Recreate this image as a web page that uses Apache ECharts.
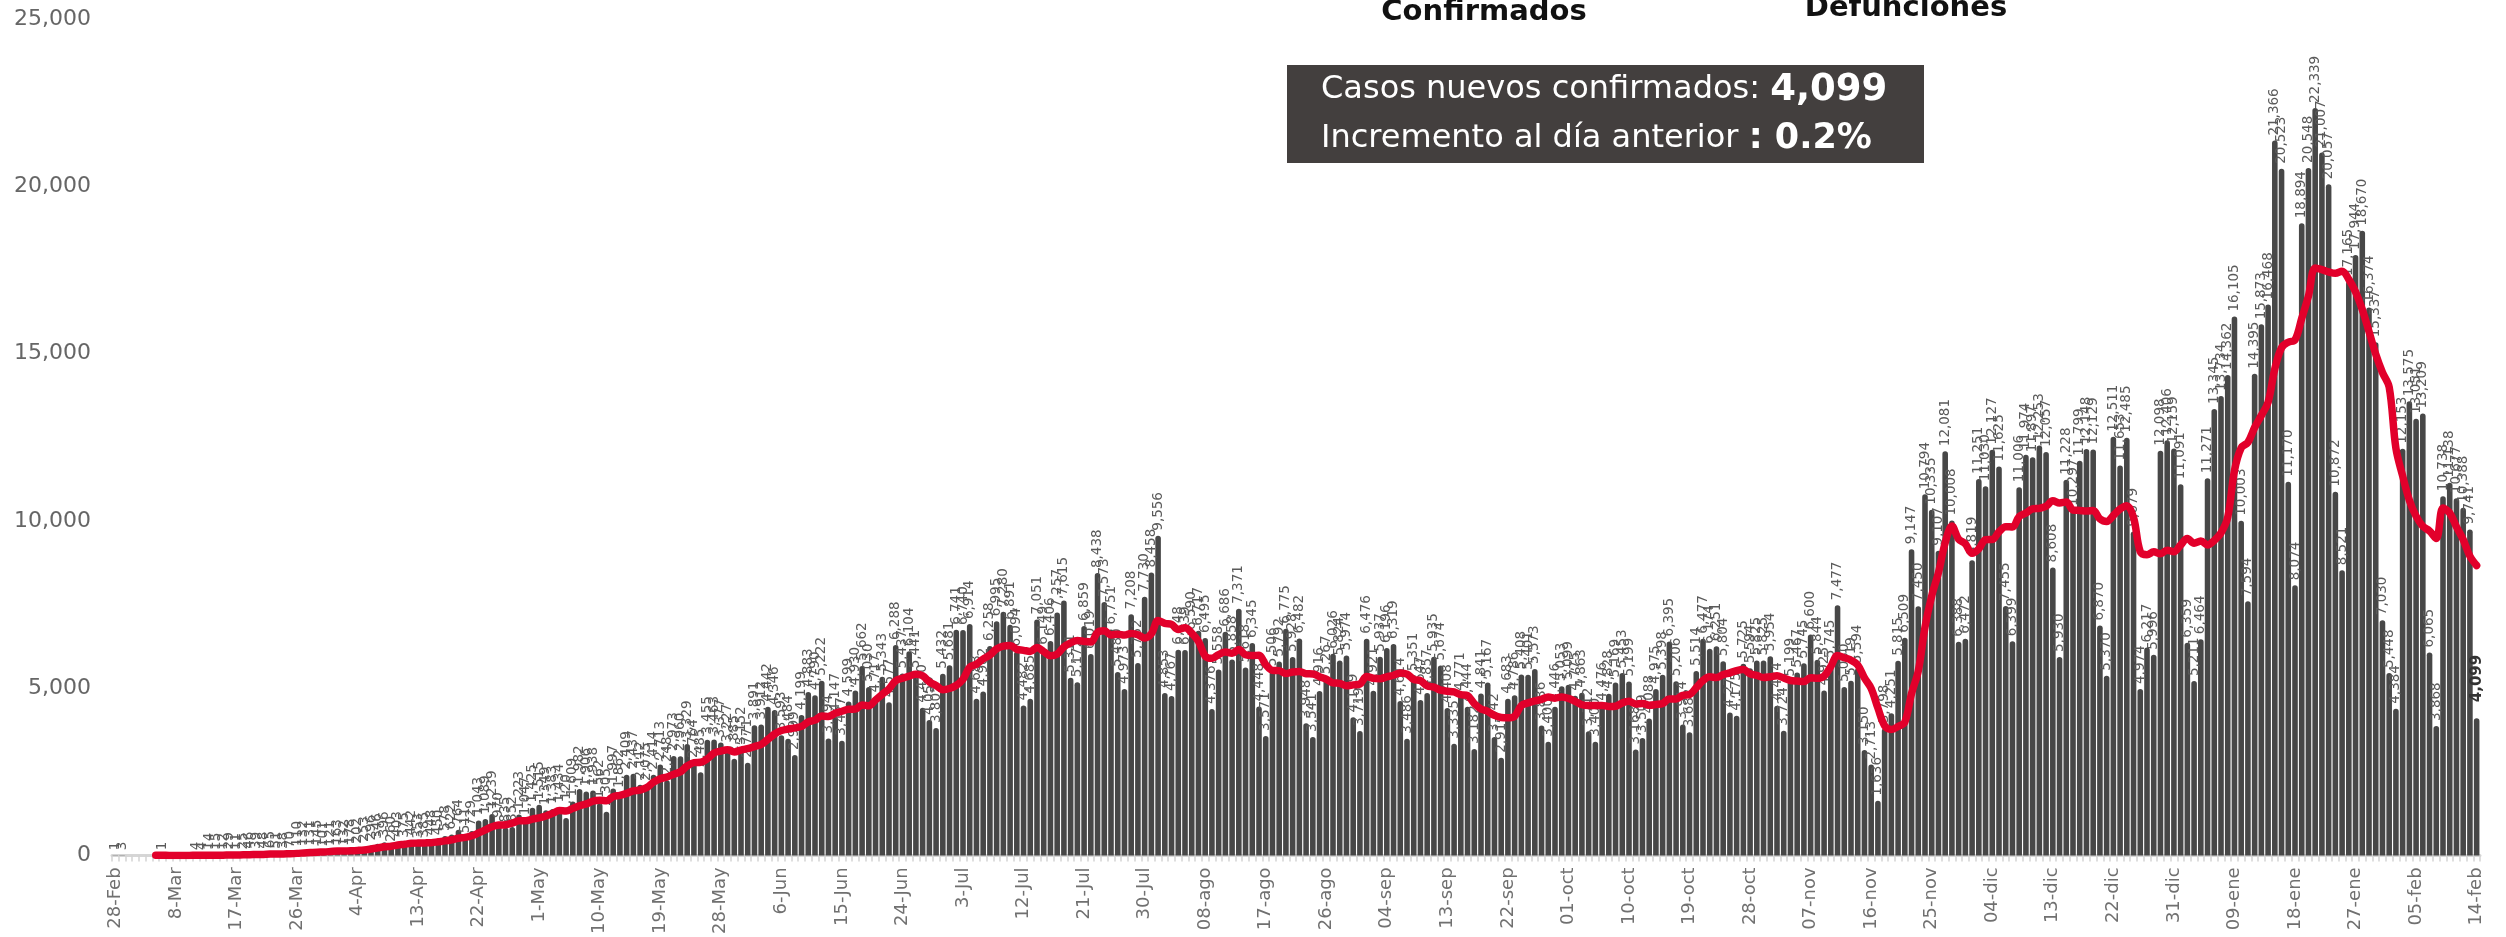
<!DOCTYPE html>
<html>
<head>
<meta charset="utf-8">
<script src="https://cdn.jsdelivr.net/npm/echarts@6/dist/echarts.min.js"></script>
<style>
  html, body { margin: 0; padding: 0; background: #ffffff; }
  #chart { width: 2506px; height: 937px; }
</style>
</head>
<body>
<div id="chart"></div>
<script>
// ---- tick labels shown on the category axis (one every 9 days) ----
const tickLabels = ['28-Feb','8-Mar','17-Mar','26-Mar','4-Apr','13-Apr','22-Apr','1-May','10-May','19-May',
  '28-May','6-Jun','15-Jun','24-Jun','3-Jul','12-Jul','21-Jul','30-Jul','08-ago','17-ago',
  '26-ago','04-sep','13-sep','22-sep','01-oct','10-oct','19-oct','28-oct','07-nov','16-nov',
  '25-nov','04-dic','13-dic','22-dic','31-dic','09-ene','18-ene','27-ene','05-feb','14-feb'];

// ---- daily new confirmed cases (one value per bar) ----
const newCasesMarApr = [
  1,3,0,0,0,0,0,1,0,0,
  0,0,4,4,14,15,12,29,11,25,
  46,39,48,65,51,38,70,110,132,131,
  145,101,121,163,132,178,202,253,296,346,
  396,260,403,375,442,353,385,448,450,578,
  622,764,511,729,1043,1089,1239,970,835,852,
  1223,1047];
const newCasesMayJul = [
  1425,1515,1349,1383,1434,1120,1609,1982,
  1906,1938,1562,1305,1997,1862,2409,2437,2112,2075,
  2414,2713,2248,2973,2960,3329,2764,2485,3455,3463,
  3377,3227,2885,3152,2771,3891,3912,4442,4346,3593,
  3484,2999,4199,4883,4790,5222,3494,4147,3427,4599,
  4930,5662,5030,4717,5343,4577,6288,5437,6104,5441,
  4410,4050,3805,5432,5681,6741,6740,6914,4683,4902,
  6258,6995,7280,6891,6094,4482,4685,7051,6149,6406,
  7257,7615,5311,5172,6859,6019,8438,7573,6751,5480,
  4973,7208,5752,7730,8458];
const newCasesAugOct = [
  9556,4853,4767,6148,6139,
  6590,6717,6495,4376,5558,6686,5858,7371,5618,6345,
  4448,3571,5506,5792,6775,5928,6482,3948,3541,4916,
  5267,6026,5824,5974,4129,3719,6476,4921,5937,6196,
  6319,4614,3486,5351,4647,4857,5935,5674,4408,3335,
  4771,4444,3182,4841,5167,3542,2917,4683,4786,5408,
  5401,5573,3886,3400,4446,5053,5099,4775,4863,3712,
  3400,4476,4828,5169,5453,5199,3168,3509,4088,4975,
  5398,6395,5206,3914,3682,5514,6477,6174,6251,5804,
  4274,4175,5725,5594];
const newCasesNovFeb = [
  5825,5825,5954,4474,3724,5199,
  5467,5745,6600,5844,4925,5745,7477,5030,5219,5594,
  3150,2713,1636,3798,4251,5815,6509,9147,7450,10794,
  10335,9107,12081,10008,6388,6472,8819,11251,11030,12127,
  11625,7455,6399,11006,11974,11897,12253,12057,8608,5930,
  11228,10297,11799,12148,12129,6870,5370,12511,11653,12485,
  9679,4974,6217,5996,12098,12406,12159,11091,6359,5211,
  6464,11271,13345,13734,14362,16105,10003,7594,14395,15873,
  16468,21366,20523,11170,8074,18894,20548,22339,21007,20057,
  10872,8521,17165,17944,18670,16374,15337,7030,5448,4384,
  12153,13575,13051,13209,6065,3868,10738,11138,10677,10388,9741,4099];

const newCases = newCasesMarApr.concat(newCasesMayJul, newCasesAugOct, newCasesNovFeb);
const dayIndex = newCases.map((_, i) => String(i));
const tickStep = 9;
const maWindow = 7;

// 7-day trailing moving average of the bars above (the red line)
const movingAvg7 = newCases.map((_, i) => {
  if (i < maWindow - 1) return null;
  let s = 0;
  for (let k = i - maWindow + 1; k <= i; k++) s += newCases[k];
  return Math.round(s / maWindow);
});

const fmt = v => Number(v).toLocaleString('en-US');
const lastIdx = newCases.length - 1;

const chart = echarts.init(document.getElementById('chart'), null, { renderer: 'canvas' });
chart.setOption({
  animation: false,
  backgroundColor: '#ffffff',
  grid: { left: 112, right: 26, top: 19, bottom: 80, containLabel: false },
  xAxis: {
    type: 'category',
    data: dayIndex,
    boundaryGap: true,
    axisLine: { show: true, lineStyle: { color: '#d6d6d6', width: 3 } },
    axisTick: { show: true, interval: 0, length: 6, lineStyle: { color: '#d3d3d3', width: 1.5 } },
    axisLabel: {
      interval: tickStep - 1,
      rotate: 90,
      margin: 12,
      color: '#707070',
      fontFamily: 'DejaVu Sans',
      fontSize: 18,
      formatter: (v, idx) => tickLabels[Math.round(idx / tickStep)] || ''
    },
    splitLine: { show: false }
  },
  yAxis: {
    type: 'value',
    min: 0,
    max: 25000,
    interval: 5000,
    axisLine: { show: false },
    axisTick: { show: false },
    splitLine: { show: false },
    axisLabel: {
      margin: 21,
      color: '#666666',
      fontFamily: 'DejaVu Sans',
      fontSize: 22,
      formatter: v => fmt(v)
    }
  },
  series: [
    {
      name: 'Casos nuevos',
      type: 'bar',
      barCategoryGap: '17%',
      z: 2,
      itemStyle: { color: '#474747', borderRadius: [3, 3, 0, 0] },
      label: {
        show: true,
        position: 'top',
        rotate: 90,
        align: 'left',
        verticalAlign: 'middle',
        distance: 5,
        color: '#5a5a5a',
        fontFamily: 'DejaVu Sans',
        fontSize: 13.5,
        formatter: p => (p.value ? fmt(p.value) : '')
      },
      data: newCases.map((v, i) => i === lastIdx
        ? { value: v, label: { fontWeight: 'bold', fontSize: 15, color: '#333333', distance: 16 } }
        : v)
    },
    {
      name: 'Promedio 7 días',
      type: 'line',
      z: 5,
      data: movingAvg7,
      showSymbol: false,
      symbol: 'none',
      smooth: 0.35,
      connectNulls: false,
      lineStyle: { color: '#e2002b', width: 7.5, cap: 'round', join: 'round' },
      itemStyle: { color: '#e2002b' }
    }
  ],
  graphic: [
    {
      type: 'text', x: 1484, y: 27, z: 10,
      style: { text: 'Confirmados', fill: '#111111', font: 'bold 29px "DejaVu Sans"', align: 'center', verticalAlign: 'bottom' }
    },
    {
      type: 'text', x: 1906, y: 23, z: 10,
      style: { text: 'Defunciones', fill: '#111111', font: 'bold 29px "DejaVu Sans"', align: 'center', verticalAlign: 'bottom' }
    },
    {
      type: 'rect', z: 10,
      shape: { x: 1287, y: 65, width: 637, height: 98 },
      style: { fill: '#433f3e' }
    },
    {
      type: 'text', x: 1321, y: 90, z: 11,
      style: {
        text: '{a|Casos nuevos confirmados: }{b|4,099}',
        align: 'left', verticalAlign: 'middle',
        rich: {
          a: { fontFamily: 'DejaVu Sans', fontSize: 32, fill: '#ffffff' },
          b: { fontFamily: 'DejaVu Sans', fontSize: 37, fontWeight: 'bold', fill: '#ffffff' }
        }
      }
    },
    {
      type: 'text', x: 1321, y: 139, z: 11,
      style: {
        text: '{a|Incremento al día anterior }{b|: 0.2%}',
        align: 'left', verticalAlign: 'middle',
        rich: {
          a: { fontFamily: 'DejaVu Sans', fontSize: 32, fill: '#ffffff' },
          b: { fontFamily: 'DejaVu Sans', fontSize: 35, fontWeight: 'bold', fill: '#ffffff' }
        }
      }
    }
  ]
});
</script>
</body>
</html>
